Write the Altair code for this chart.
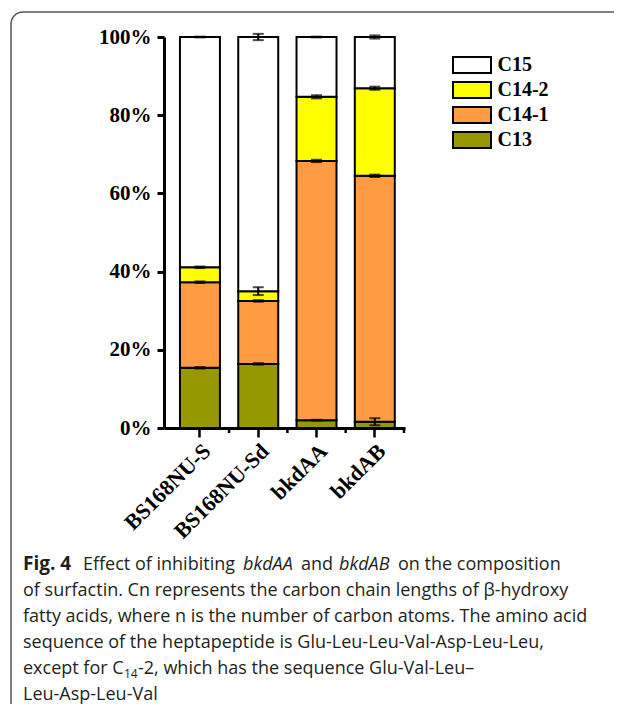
import altair as alt
import pandas as pd

# ---------------- data ----------------
groups = ["BS168NU-S", "BS168NU-Sd", "bkdAA", "bkdAB"]
series = ["C13", "C14-1", "C14-2", "C15"]
c13 = [15.4, 16.4, 2.0, 1.6]
c14_1 = [21.9, 16.1, 66.3, 62.9]
c14_2 = [3.8, 2.5, 16.4, 22.4]
c15 = [58.9, 65.0, 15.3, 13.1]
c13_err = [0.2, 0.2, 0.1, 0.9]
c14_1_err = [0.2, 0.2, 0.3, 0.3]
c14_2_err = [0.2, 1.0, 0.4, 0.4]
c15_err = [0.1, 0.8, 0.1, 0.4]
y_ticks = [0, 20, 40, 60, 80, 100]
legend_order = ["C15", "C14-2", "C14-1", "C13"]
legend_colors = ["#FFFFFF", "#FFFF00", "#FF9B42", "#979700"]

caption_lines = [
    "of surfactin. Cn represents the carbon chain lengths of β-hydroxy",
    "fatty acids, where n is the number of carbon atoms. The amino acid",
    "sequence of the heptapeptide is Glu-Leu-Leu-Val-Asp-Leu-Leu,",
]
line1 = [("Fig. 4", "bold", 23), ("Effect of inhibiting", "normal", 83), ("bkdAA", "italic", 243),
         ("and", "normal", 301), ("bkdAB", "italic", 339), ("on the composition", "normal", 398)]
line5 = [("except for C", "normal", 23), ("14", "sub", 124),
         ("-2, which has the sequence Glu-Val-Leu–", "normal", 138)]
line6 = "Leu-Asp-Leu-Val"

# ---------------- build table ----------------
vals = [c13, c14_1, c14_2, c15]
errs = [c13_err, c14_1_err, c14_2_err, c15_err]
rows = []
for gi, g in enumerate(groups):
    base = 0.0
    for si, s in enumerate(series):
        v = vals[si][gi]
        top = round(base + v, 2)
        rows.append(dict(group=g, series=s, y0=round(base, 2), y1=top,
                         lo=top - errs[si][gi], hi=min(top + errs[si][gi], 101.5)))
        base = top
df = pd.DataFrame(rows)
gdf = pd.DataFrame({"group": groups})

W, H = 241, 391
OX, OY = 164, 37  # plot origin on page

serif = "Liberation Serif"
xscale = alt.Scale(paddingInner=0.314, paddingOuter=0.2245, align=0.61)

xenc = alt.X("group:N", sort=groups, scale=xscale, title=None,
             axis=alt.Axis(labelAngle=-45, labelFont=serif, labelFontWeight="bold",
                           labelFontSize=22, labelColor="black", domainColor="black",
                           domainWidth=3, tickColor="black", tickWidth=2.5, tickSize=9,
                           labelPadding=3))
yscale = alt.Scale(domain=[0, 100], nice=False)

bars = alt.Chart(df).mark_bar(stroke="black", strokeWidth=2).encode(
    x=xenc,
    y=alt.Y("y0:Q", scale=yscale, title=None,
            axis=alt.Axis(values=y_ticks, labelExpr="datum.value + '%'", grid=False,
                          labelFont=serif, labelFontWeight="bold", labelFontSize=21,
                          labelColor="black", domainColor="black", domainWidth=3,
                          tickColor="black", tickWidth=3, tickSize=7, labelPadding=6)),
    y2="y1:Q",
    color=alt.Color("series:N", scale=alt.Scale(domain=legend_order, range=legend_colors),
                    legend=alt.Legend(orient="none", legendX=297.5, legendY=17.5, title=None,
                                      symbolType="M-2,-0.85H2V0.85H-2Z", symbolSize=361,
                                      symbolStrokeColor="black", symbolStrokeWidth=2,
                                      symbolOpacity=1,
                                      labelFont=serif, labelFontWeight="bold",
                                      labelFontSize=20, labelColor="black",
                                      labelOffset=15, rowPadding=0, padding=0)),
)

xplain = alt.X("group:N", sort=groups, scale=xscale, title=None)

err_rule = alt.Chart(df).mark_rule(color="black", strokeWidth=2).encode(
    x=xplain, y=alt.Y("lo:Q", scale=yscale, title=None), y2="hi:Q")
cap_lo = alt.Chart(df).mark_tick(color="black", size=11, thickness=2).encode(
    x=xplain, y=alt.Y("lo:Q", scale=yscale, title=None))
cap_hi = alt.Chart(df).mark_tick(color="black", size=11, thickness=2).encode(
    x=xplain, y=alt.Y("hi:Q", scale=yscale, title=None))

minor = alt.Chart(gdf).mark_rule(color="black", strokeWidth=2.5, xOffset=29.15).encode(
    x=xplain, y=alt.value(H), y2=alt.value(H + 5))

one = pd.DataFrame({"a": [0]})
frame = alt.Chart(one).mark_rect(cornerRadius=12, fill="transparent", stroke="#555555",
                                 strokeWidth=1.5).encode(
    x=alt.value(11 - OX), x2=alt.value(900), y=alt.value(12 - OY), y2=alt.value(900))

font = "Open Sans"
tcol = "#231F20"
base_y = 570
lh = 26


def txt(s, style, px, py):
    kw = dict(align="left", baseline="alphabetic", font=font, fontSize=18, color=tcol)
    if style == "bold":
        kw["fontWeight"] = "bold"
        kw["fontSize"] = 19
    elif style == "italic":
        kw["fontStyle"] = "italic"
    elif style == "sub":
        kw["fontSize"] = 12
        py = py + 4
    return alt.Chart(one).mark_text(**kw).encode(
        x=alt.value(px - OX), y=alt.value(py - OY), text=alt.value(s))


texts = []
for s, st, px in line1:
    texts.append(txt(s, st, px, base_y))
for i, s in enumerate(caption_lines):
    texts.append(txt(s, "normal", 23, base_y + lh * (i + 1)))
for s, st, px in line5:
    texts.append(txt(s, st, px, base_y + lh * 4))
texts.append(txt(line6, "normal", 23, base_y + lh * 5))

chart = alt.layer(frame, bars, err_rule, cap_lo, cap_hi, minor, *texts).properties(
    width=W, height=H,
    padding={"left": OX - 8, "top": OY - 8, "right": 606 - (OX - 8) - W,
             "bottom": 696 - (OY - 8) - H},
    autosize=alt.AutoSizeParams(type="none"),
    background="white",
).configure_view(stroke=None)

chart.save("out.html", embed_options={"renderer": "svg", "actions": False})
